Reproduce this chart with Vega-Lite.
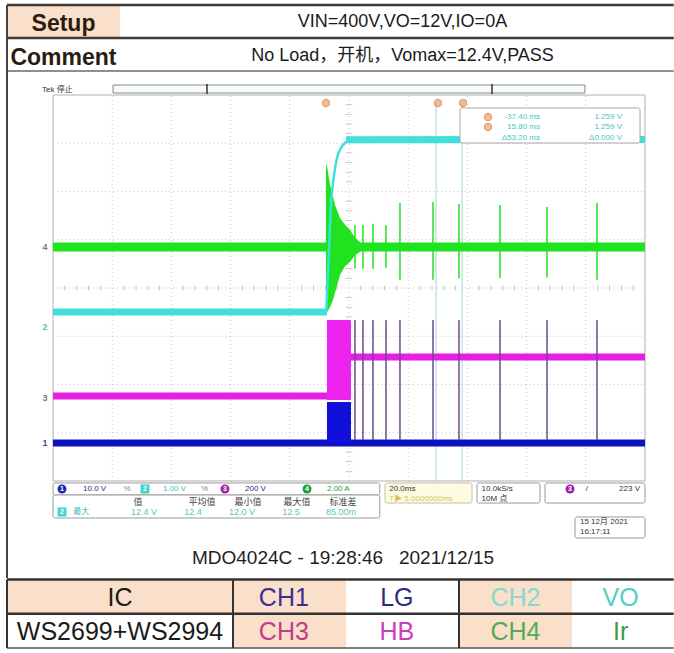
{
  "$schema": "https://vega.github.io/schema/vega-lite/v6.json",
  "padding": 0,
  "spacing": 0,
  "bounds": "flush",
  "background": "white",
  "config": {
    "view": {"stroke": null},
    "axis": {"disable": true},
    "text": {"font": "Liberation Sans, Noto Sans CJK SC"}
  },
  "datasets": {
    "gridv": [{"t":1},{"t":2},{"t":3},{"t":4},{"t":5},{"t":6},{"t":7},{"t":8},{"t":9}],
    "gridh": [{"v":-3},{"v":-2},{"v":-1},{"v":0},{"v":1},{"v":2},{"v":3}],
    "hticks": [{"t":0.2,"v":0},{"t":0.4,"v":0},{"t":0.6,"v":0},{"t":0.8,"v":0},{"t":1.2,"v":0},{"t":1.4,"v":0},{"t":1.6,"v":0},{"t":1.8,"v":0},{"t":2.2,"v":0},{"t":2.4,"v":0},{"t":2.6,"v":0},{"t":2.8,"v":0},{"t":3.2,"v":0},{"t":3.4,"v":0},{"t":3.6,"v":0},{"t":3.8,"v":0},{"t":4.2,"v":0},{"t":4.4,"v":0},{"t":4.6,"v":0},{"t":4.8,"v":0},{"t":5.2,"v":0},{"t":5.4,"v":0},{"t":5.6,"v":0},{"t":5.8,"v":0},{"t":6.2,"v":0},{"t":6.4,"v":0},{"t":6.6,"v":0},{"t":6.8,"v":0},{"t":7.2,"v":0},{"t":7.4,"v":0},{"t":7.6,"v":0},{"t":7.8,"v":0},{"t":8.2,"v":0},{"t":8.4,"v":0},{"t":8.6,"v":0},{"t":8.8,"v":0},{"t":9.2,"v":0},{"t":9.4,"v":0},{"t":9.6,"v":0},{"t":9.8,"v":0}],
    "vticks": [{"t":5,"v":-3.8},{"t":5,"v":-3.6},{"t":5,"v":-3.4},{"t":5,"v":-3.2},{"t":5,"v":-2.8},{"t":5,"v":-2.6},{"t":5,"v":-2.4},{"t":5,"v":-2.2},{"t":5,"v":-1.8},{"t":5,"v":-1.6},{"t":5,"v":-1.4},{"t":5,"v":-1.2},{"t":5,"v":-0.8},{"t":5,"v":-0.6},{"t":5,"v":-0.4},{"t":5,"v":-0.2},{"t":5,"v":0.2},{"t":5,"v":0.4},{"t":5,"v":0.6},{"t":5,"v":0.8},{"t":5,"v":1.2},{"t":5,"v":1.4},{"t":5,"v":1.6},{"t":5,"v":1.8},{"t":5,"v":2.2},{"t":5,"v":2.4},{"t":5,"v":2.6},{"t":5,"v":2.8},{"t":5,"v":3.2},{"t":5,"v":3.4},{"t":5,"v":3.6},{"t":5,"v":3.8}],
    "cursors": [{"t":6.47},{"t":6.91}],
    "green": [{"t":0,"v":0.85},{"t":10,"v":0.85}],
    "burst": [{"t":4.611,"v":2.59,"v2":-0.52},{"t":4.64,"v":2.45,"v2":-0.47},{"t":4.679,"v":2.14,"v2":-0.4},{"t":4.73,"v":1.9,"v2":-0.25},{"t":4.764,"v":1.72,"v2":-0.1},{"t":4.848,"v":1.45,"v2":0.27},{"t":4.932,"v":1.31,"v2":0.45},{"t":5.017,"v":1.2,"v2":0.54},{"t":5.101,"v":1.04,"v2":0.68},{"t":5.186,"v":0.95,"v2":0.75}],
    "gspikes": [{"t":5.101,"v":1.31,"v2":0.4},{"t":5.236,"v":1.31,"v2":0.4},{"t":5.405,"v":1.33,"v2":0.4},{"t":5.625,"v":1.3,"v2":0.42},{"t":5.861,"v":1.76,"v2":0.17},{"t":6.419,"v":1.78,"v2":0.17},{"t":6.858,"v":1.74,"v2":0.2},{"t":7.551,"v":1.72,"v2":0.2},{"t":8.345,"v":1.68,"v2":0.22},{"t":9.189,"v":1.76,"v2":0.17}],
    "mspikes": [{"t":5.101,"v":-0.663,"v2":-3.15},{"t":5.236,"v":-0.663,"v2":-3.15},{"t":5.405,"v":-0.663,"v2":-3.15},{"t":5.625,"v":-0.663,"v2":-3.15},{"t":5.861,"v":-0.663,"v2":-3.15},{"t":6.419,"v":-0.663,"v2":-3.15},{"t":6.858,"v":-0.663,"v2":-3.15},{"t":7.551,"v":-0.663,"v2":-3.15},{"t":8.345,"v":-0.663,"v2":-3.15},{"t":9.189,"v":-0.663,"v2":-3.15}],
    "cyan0": [{"t":0,"v":-0.497},{"t":4.628,"v":-0.497}],
    "cyanrise": [{"t":4.615,"v":-0.497},{"t":4.645,"v":0.3},{"t":4.662,"v":0.788},{"t":4.696,"v":1.72},{"t":4.747,"v":2.342},{"t":4.797,"v":2.694},{"t":4.865,"v":2.902},{"t":4.932,"v":3.005},{"t":5.017,"v":3.06}],
    "cyan2": [{"t":4.95,"v":3.07},{"t":10,"v":3.08}],
    "mag0": [{"t":0,"v":-2.238},{"t":4.628,"v":-2.238}],
    "mag2": [{"t":5.034,"v":-1.43},{"t":10,"v":-1.43}],
    "blue0": [{"t":0,"v":-3.212},{"t":10,"v":-3.212}],
    "magblock": [{"t":4.628,"t2":5.034,"v":-0.663,"v2":-2.321}],
    "blueblock": [{"t":4.628,"t2":5.034,"v":-2.363,"v2":-3.212}],
    "chlab": [{"t":-0.135,"v":0.85,"n":"4","ch":"4"},{"t":-0.135,"v":-0.81,"n":"2","ch":"2"},{"t":-0.135,"v":-2.28,"n":"3","ch":"3"},{"t":-0.135,"v":-3.21,"n":"1","ch":"1"}],
    "cursorbox": [{"t":6.875,"t2":9.916,"v":3.731,"v2":3.005}],
    "curtxt": [{"t":8.226,"v":3.544,"txt":"-37.40 ms"},{"t":9.611,"v":3.544,"txt":"1.259 V"},{"t":8.226,"v":3.337,"txt":"15.80 ms"},{"t":9.611,"v":3.337,"txt":"1.259 V"},{"t":8.226,"v":3.109,"txt":"Δ53.20 ms"},{"t":9.611,"v":3.109,"txt":"Δ0.000 V"}],
    "omarks": [{"t":4.611,"v":3.834},{"t":6.503,"v":3.834},{"t":6.926,"v":3.834},{"t":7.348,"v":3.544},{"t":7.348,"v":3.337}],
    "trig": [{"t":4.82,"v":4.1}],
    "tek": [{"t":-0.186,"v":4.104,"txt":"Tek 停止"}],
    "recbar": [{"t":1.014,"t2":8.986,"v":4.207,"v2":4.041}],
    "recdiv": [{"t":2.601},{"t":7.416}],
    "sboxes": [{"t":0,"t2":5.52,"v":-4.041,"v2":-4.29},{"t":0,"t2":5.52,"v":-4.29,"v2":-4.767},{"t":7.162,"t2":8.226,"v":-4.041,"v2":-4.456},{"t":8.311,"t2":10,"v":-4.041,"v2":-4.456},{"t":8.818,"t2":10,"v":-4.746,"v2":-5.181}],
    "ybox": [{"t":5.608,"t2":7.078,"v":-4.041,"v2":-4.456}],
    "badges": [{"t":0.152,"v":-4.166,"ch":"1"},{"t":1.554,"v":-4.166,"ch":"2"},{"t":2.905,"v":-4.166,"ch":"3"},{"t":4.291,"v":-4.166,"ch":"4"},{"t":0.152,"v":-4.642,"ch":"2"},{"t":8.733,"v":-4.166,"ch":"3"}],
    "stxtL": [{"t":0.507,"v":-4.166,"txt":"10.0 V","g":"navy"},{"t":1.19,"v":-4.166,"txt":"%","g":"gray"},{"t":1.858,"v":-4.166,"txt":"1.00 V","g":"cyan"},{"t":2.5,"v":-4.166,"txt":"%","g":"gray"},{"t":3.243,"v":-4.166,"txt":"200 V","g":"navy"},{"t":4.628,"v":-4.166,"txt":"2.00 A","g":"green"},{"t":0.34,"v":-4.642,"txt":"最大","g":"cyan"},{"t":5.68,"v":-4.166,"txt":"20.0ms","g":"dark"},{"t":5.68,"v":-4.37,"txt":"T▶ 5.0000000ms","g":"yellow"},{"t":7.24,"v":-4.166,"txt":"10.0kS/s","g":"dark"},{"t":7.24,"v":-4.37,"txt":"10M 点","g":"dark"},{"t":9.0,"v":-4.166,"txt":"/","g":"dark"},{"t":8.902,"v":-4.85,"txt":"15 12月 2021","g":"dark"},{"t":8.902,"v":-5.057,"txt":"16:17:11","g":"dark"}],
    "stxtR": [{"t":9.916,"v":-4.166,"txt":"223 V"}],
    "stxtC": [{"t":1.436,"v":-4.435,"txt":"值","g":"dark"},{"t":2.517,"v":-4.435,"txt":"平均值","g":"dark"},{"t":3.294,"v":-4.435,"txt":"最小值","g":"dark"},{"t":4.122,"v":-4.435,"txt":"最大值","g":"dark"},{"t":4.899,"v":-4.435,"txt":"标准差","g":"dark"},{"t":1.537,"v":-4.642,"txt":"12.4 V","g":"cyan"},{"t":2.365,"v":-4.642,"txt":"12.4","g":"cyan"},{"t":3.193,"v":-4.642,"txt":"12.0 V","g":"cyan"},{"t":4.02,"v":-4.642,"txt":"12.5","g":"cyan"},{"t":4.865,"v":-4.642,"txt":"85.00m","g":"cyan"}],
    "caption": [{"t":4.899,"v":-5.596,"txt":"MDO4024C - 19:28:46\u00a0\u00a0\u00a02021/12/15"}]
  },
  "vconcat": [
    {
      "width": 674,
      "height": 76,
      "layer": [
        {"data": {"values": [{"c": 0, "c2": 1, "r": 0, "r2": 1}]}, "mark": {"type": "rect", "fill": "#fadfca"},
         "encoding": {"x": {"field": "c", "type": "quantitative", "scale": {"domain": [-0.0619, 5.9027], "nice": false, "zero": false}, "axis": null}, "x2": {"field": "c2"},
                      "y": {"field": "r", "type": "quantitative", "scale": {"domain": [-0.1515, 2.1515], "nice": false, "zero": false, "reverse": true}, "axis": null}, "y2": {"field": "r2"}}},
        {"data": {"values": [{"r": 0}, {"r": 1}]}, "mark": {"type": "rule", "stroke": "#3a3a3a", "strokeWidth": 2.5},
         "encoding": {"x": {"datum": 0, "type": "quantitative"}, "x2": {"datum": 5.9},
                      "y": {"field": "r", "type": "quantitative", "scale": {"domain": [-0.1515, 2.1515], "nice": false, "zero": false, "reverse": true}, "axis": null}}},
        {"data": {"values": [{"r": 2}]}, "mark": {"type": "rule", "stroke": "#6a6a6a", "strokeWidth": 1.5},
         "encoding": {"x": {"datum": 0, "type": "quantitative"}, "x2": {"datum": 5.9},
                      "y": {"field": "r", "type": "quantitative", "axis": null}}},
        {"data": {"values": [{"c": 0}]}, "mark": {"type": "rule", "stroke": "#444444", "strokeWidth": 2},
         "encoding": {"x": {"field": "c", "type": "quantitative", "axis": null}, "y": {"datum": 0, "type": "quantitative"}, "y2": {"datum": 2.1515}}},
        {"data": {"values": [{"c": 0.5, "r": 0.5, "txt": "Setup"}, {"c": 0.5, "r": 1.5, "txt": "Comment"}]}, "mark": {"type": "text", "fontSize": 23, "fontWeight": "bold", "color": "#2a1c10", "align": "center", "baseline": "middle", "dy": 3},
         "encoding": {"x": {"field": "c", "type": "quantitative", "axis": null}, "y": {"field": "r", "type": "quantitative", "axis": null}, "text": {"field": "txt"}}},
        {"data": {"values": [{"c": 3.5, "r": 0.5, "txt": "VIN=400V,VO=12V,IO=0A"}, {"c": 3.5, "r": 1.5, "txt": "No Load，开机，Vomax=12.4V,PASS"}]}, "mark": {"type": "text", "fontSize": 18, "color": "#1a1a1a", "align": "center", "baseline": "middle", "dy": 1},
         "encoding": {"x": {"field": "c", "type": "quantitative", "axis": null}, "y": {"field": "r", "type": "quantitative", "axis": null}, "text": {"field": "txt"}}}
      ]
    },
    {
      "width": 674,
      "height": 502,
      "resolve": {"scale": {"color": "independent", "shape": "independent"}},
      "layer": [
        {"data": {"name": "gridv"}, "mark": {"type": "rule", "stroke": "#c4c4c4", "strokeWidth": 1, "strokeDash": [1, 3]},
         "encoding": {"x": {"field": "t", "type": "quantitative", "scale": {"domain": [-0.8953, 10.49], "nice": false, "zero": false}, "axis": null},
                      "y": {"datum": -4, "type": "quantitative", "scale": {"domain": [-6.0104, 4.3938], "nice": false, "zero": false}, "axis": null}, "y2": {"datum": 4}}},
        {"data": {"name": "gridh"}, "mark": {"type": "rule", "stroke": "#c4c4c4", "strokeWidth": 1, "strokeDash": [1, 3]},
         "encoding": {"x": {"datum": 0, "type": "quantitative"}, "x2": {"datum": 10}, "y": {"field": "v", "type": "quantitative", "axis": null}}},
        {"data": {"values": [{"k": "frame"}]}, "mark": {"type": "rect", "fillOpacity": 0, "stroke": "#b0b0b0", "strokeWidth": 1},
         "encoding": {"x": {"datum": 0, "type": "quantitative"}, "x2": {"datum": 10}, "y": {"datum": -4, "type": "quantitative"}, "y2": {"datum": 4}}},
        {"data": {"name": "hticks"}, "mark": {"type": "tick", "orient": "vertical", "size": 5, "thickness": 1, "color": "#b4b4b4"},
         "encoding": {"x": {"field": "t", "type": "quantitative", "axis": null}, "y": {"field": "v", "type": "quantitative", "axis": null}}},
        {"data": {"name": "vticks"}, "mark": {"type": "tick", "orient": "horizontal", "size": 7, "thickness": 1, "color": "#b4b4b4"},
         "encoding": {"x": {"field": "t", "type": "quantitative", "axis": null}, "y": {"field": "v", "type": "quantitative", "axis": null}}},
        {"data": {"name": "cursors"}, "mark": {"type": "rule", "stroke": "#a9d3d3", "strokeWidth": 1},
         "encoding": {"x": {"field": "t", "type": "quantitative", "axis": null}, "y": {"datum": -4, "type": "quantitative"}, "y2": {"datum": 3.85}}},
        {"data": {"name": "cyan0"}, "mark": {"type": "line", "color": "#3fe0dc", "strokeWidth": 7},
         "encoding": {"x": {"field": "t", "type": "quantitative", "axis": null}, "y": {"field": "v", "type": "quantitative", "axis": null}}},
        {"data": {"name": "green"}, "mark": {"type": "line", "color": "#1fe31f", "strokeWidth": 9},
         "encoding": {"x": {"field": "t", "type": "quantitative", "axis": null}, "y": {"field": "v", "type": "quantitative", "axis": null}}},
        {"data": {"name": "burst"}, "mark": {"type": "area", "color": "#1fe31f", "opacity": 1},
         "encoding": {"x": {"field": "t", "type": "quantitative", "axis": null}, "y": {"field": "v", "type": "quantitative", "axis": null}, "y2": {"field": "v2"}}},
        {"data": {"name": "gspikes"}, "mark": {"type": "rule", "color": "#1fe31f", "strokeWidth": 1.5},
         "encoding": {"x": {"field": "t", "type": "quantitative", "axis": null}, "y": {"field": "v", "type": "quantitative", "axis": null}, "y2": {"field": "v2"}}},
        {"data": {"name": "cyanrise"}, "mark": {"type": "line", "color": "#3fe0dc", "strokeWidth": 2.5, "interpolate": "monotone"},
         "encoding": {"x": {"field": "t", "type": "quantitative", "axis": null}, "y": {"field": "v", "type": "quantitative", "axis": null}}},
        {"data": {"name": "cyan2"}, "mark": {"type": "line", "color": "#3fe0dc", "strokeWidth": 7},
         "encoding": {"x": {"field": "t", "type": "quantitative", "axis": null}, "y": {"field": "v", "type": "quantitative", "axis": null}}},
        {"data": {"name": "mag0"}, "mark": {"type": "line", "color": "#e61fe0", "strokeWidth": 7},
         "encoding": {"x": {"field": "t", "type": "quantitative", "axis": null}, "y": {"field": "v", "type": "quantitative", "axis": null}}},
        {"data": {"name": "magblock"}, "mark": {"type": "rect", "color": "#ee22ee"},
         "encoding": {"x": {"field": "t", "type": "quantitative", "axis": null}, "x2": {"field": "t2"}, "y": {"field": "v", "type": "quantitative", "axis": null}, "y2": {"field": "v2"}}},
        {"data": {"name": "mag2"}, "mark": {"type": "line", "color": "#e61fe0", "strokeWidth": 7},
         "encoding": {"x": {"field": "t", "type": "quantitative", "axis": null}, "y": {"field": "v", "type": "quantitative", "axis": null}}},
        {"data": {"name": "blue0"}, "mark": {"type": "line", "color": "#0c12c4", "strokeWidth": 7},
         "encoding": {"x": {"field": "t", "type": "quantitative", "axis": null}, "y": {"field": "v", "type": "quantitative", "axis": null}}},
        {"data": {"name": "blueblock"}, "mark": {"type": "rect", "color": "#1010d8"},
         "encoding": {"x": {"field": "t", "type": "quantitative", "axis": null}, "x2": {"field": "t2"}, "y": {"field": "v", "type": "quantitative", "axis": null}, "y2": {"field": "v2"}}},
        {"data": {"name": "mspikes"}, "mark": {"type": "rule", "color": "#6a4a8c", "strokeWidth": 1.5},
         "encoding": {"x": {"field": "t", "type": "quantitative", "axis": null}, "y": {"field": "v", "type": "quantitative", "axis": null}, "y2": {"field": "v2"}}},
        {"data": {"name": "chlab"}, "mark": {"type": "text", "fontSize": 9, "fontWeight": "bold", "align": "center", "baseline": "middle"},
         "encoding": {"x": {"field": "t", "type": "quantitative", "axis": null}, "y": {"field": "v", "type": "quantitative", "axis": null}, "text": {"field": "n"},
                      "color": {"field": "ch", "type": "nominal", "scale": {"domain": ["1", "2", "3", "4"], "range": ["#4a4a8a", "#6ab8b8", "#8a6a8a", "#6a8a6a"]}, "legend": null}}},
        {"data": {"name": "cursorbox"}, "mark": {"type": "rect", "fill": "white", "stroke": "#a8a8a8", "strokeWidth": 1, "cornerRadius": 2},
         "encoding": {"x": {"field": "t", "type": "quantitative", "axis": null}, "x2": {"field": "t2"}, "y": {"field": "v", "type": "quantitative", "axis": null}, "y2": {"field": "v2"}}},
        {"data": {"name": "curtxt"}, "mark": {"type": "text", "fontSize": 8, "color": "#4cc4c4", "align": "right", "baseline": "middle"},
         "encoding": {"x": {"field": "t", "type": "quantitative", "axis": null}, "y": {"field": "v", "type": "quantitative", "axis": null}, "text": {"field": "txt"}}},
        {"data": {"name": "omarks"}, "mark": {"type": "point", "shape": "circle", "filled": true, "size": 55, "fill": "#f0a060", "stroke": "#d06a30", "strokeWidth": 1},
         "encoding": {"x": {"field": "t", "type": "quantitative", "axis": null}, "y": {"field": "v", "type": "quantitative", "axis": null}}},
        {"data": {"name": "trig"}, "mark": {"type": "point", "shape": "triangle-down", "filled": true, "size": 30, "color": "#f0a040"},
         "encoding": {"x": {"field": "t", "type": "quantitative", "axis": null}, "y": {"field": "v", "type": "quantitative", "axis": null}}},
        {"data": {"name": "tek"}, "mark": {"type": "text", "fontSize": 8, "color": "#333333", "align": "left", "baseline": "middle"},
         "encoding": {"x": {"field": "t", "type": "quantitative", "axis": null}, "y": {"field": "v", "type": "quantitative", "axis": null}, "text": {"field": "txt"}}},
        {"data": {"name": "recbar"}, "mark": {"type": "rect", "fill": "#f6fbfb", "stroke": "#8a8a8a", "strokeWidth": 1},
         "encoding": {"x": {"field": "t", "type": "quantitative", "axis": null}, "x2": {"field": "t2"}, "y": {"field": "v", "type": "quantitative", "axis": null}, "y2": {"field": "v2"}}},
        {"data": {"name": "recdiv"}, "mark": {"type": "rule", "stroke": "#333333", "strokeWidth": 1.5},
         "encoding": {"x": {"field": "t", "type": "quantitative", "axis": null}, "y": {"datum": 4.02, "type": "quantitative"}, "y2": {"datum": 4.23}}},
        {"data": {"name": "sboxes"}, "mark": {"type": "rect", "fill": "white", "stroke": "#9a9a9a", "strokeWidth": 1, "cornerRadius": 2},
         "encoding": {"x": {"field": "t", "type": "quantitative", "axis": null}, "x2": {"field": "t2"}, "y": {"field": "v", "type": "quantitative", "axis": null}, "y2": {"field": "v2"}}},
        {"data": {"name": "ybox"}, "mark": {"type": "rect", "fill": "#fffbe2", "stroke": "#c8c0a0", "strokeWidth": 1, "cornerRadius": 2},
         "encoding": {"x": {"field": "t", "type": "quantitative", "axis": null}, "x2": {"field": "t2"}, "y": {"field": "v", "type": "quantitative", "axis": null}, "y2": {"field": "v2"}}},
        {"data": {"name": "badges"}, "mark": {"type": "point", "filled": true, "size": 80, "opacity": 1},
         "encoding": {"x": {"field": "t", "type": "quantitative", "axis": null}, "y": {"field": "v", "type": "quantitative", "axis": null},
                      "color": {"field": "ch", "type": "nominal", "scale": {"domain": ["1", "2", "3", "4"], "range": ["#1a2bb8", "#3fd4d0", "#a020a8", "#1e9e3a"]}, "legend": null},
                      "shape": {"field": "ch", "type": "nominal", "scale": {"domain": ["1", "2", "3", "4"], "range": ["circle", "square", "circle", "circle"]}, "legend": null}}},
        {"data": {"name": "badges"}, "mark": {"type": "text", "fontSize": 7, "fontWeight": "bold", "color": "white", "align": "center", "baseline": "middle"},
         "encoding": {"x": {"field": "t", "type": "quantitative", "axis": null}, "y": {"field": "v", "type": "quantitative", "axis": null}, "text": {"field": "ch"}}},
        {"data": {"name": "stxtL"}, "mark": {"type": "text", "fontSize": 8, "align": "left", "baseline": "middle"},
         "encoding": {"x": {"field": "t", "type": "quantitative", "axis": null}, "y": {"field": "v", "type": "quantitative", "axis": null}, "text": {"field": "txt"},
                      "color": {"field": "g", "type": "nominal", "scale": {"domain": ["dark", "navy", "cyan", "green", "yellow", "gray"], "range": ["#333333", "#2a2a7a", "#40bcbc", "#2a9a3a", "#d8c060", "#888888"]}, "legend": null}}},
        {"data": {"name": "stxtR"}, "mark": {"type": "text", "fontSize": 8, "align": "right", "baseline": "middle", "color": "#333333"},
         "encoding": {"x": {"field": "t", "type": "quantitative", "axis": null}, "y": {"field": "v", "type": "quantitative", "axis": null}, "text": {"field": "txt"}}},
        {"data": {"name": "stxtC"}, "mark": {"type": "text", "fontSize": 9, "align": "center", "baseline": "middle"},
         "encoding": {"x": {"field": "t", "type": "quantitative", "axis": null}, "y": {"field": "v", "type": "quantitative", "axis": null}, "text": {"field": "txt"},
                      "color": {"field": "g", "type": "nominal", "scale": {"domain": ["dark", "cyan"], "range": ["#444444", "#5cc4c4"]}, "legend": null}}},
        {"data": {"name": "caption"}, "mark": {"type": "text", "fontSize": 19, "color": "#1e1e1e", "align": "center", "baseline": "middle"},
         "encoding": {"x": {"field": "t", "type": "quantitative", "axis": null}, "y": {"field": "v", "type": "quantitative", "axis": null}, "text": {"field": "txt"}}},
        {"data": {"values": [{"t": -0.777}]}, "mark": {"type": "rule", "stroke": "#444444", "strokeWidth": 2},
         "encoding": {"x": {"field": "t", "type": "quantitative", "axis": null}, "y": {"datum": -6.0104, "type": "quantitative"}, "y2": {"datum": 4.3938}}}
      ]
    },
    {
      "width": 674,
      "height": 75,
      "layer": [
        {"data": {"values": [{"c": 0, "c2": 2, "r": 0, "r2": 1}, {"c": 2, "c2": 3, "r": 0, "r2": 2}, {"c": 4, "c2": 5, "r": 0, "r2": 2}]}, "mark": {"type": "rect", "fill": "#fadfca"},
         "encoding": {"x": {"field": "c", "type": "quantitative", "scale": {"domain": [-0.0619, 5.9027], "nice": false, "zero": false}, "axis": null}, "x2": {"field": "c2"},
                      "y": {"field": "r", "type": "quantitative", "scale": {"domain": [-0.0438, 2.146], "nice": false, "zero": false, "reverse": true}, "axis": null}, "y2": {"field": "r2"}}},
        {"data": {"values": [{"r": 0}, {"r": 1}]}, "mark": {"type": "rule", "stroke": "#333333", "strokeWidth": 2.5},
         "encoding": {"x": {"datum": 0, "type": "quantitative"}, "x2": {"datum": 5.9}, "y": {"field": "r", "type": "quantitative", "axis": null}}},
        {"data": {"values": [{"r": 2}]}, "mark": {"type": "rule", "stroke": "#555555", "strokeWidth": 1.5},
         "encoding": {"x": {"datum": 0, "type": "quantitative"}, "x2": {"datum": 5.9}, "y": {"field": "r", "type": "quantitative", "axis": null}}},
        {"data": {"values": [{"c": 0}, {"c": 2}, {"c": 4}]}, "mark": {"type": "rule", "stroke": "#333333", "strokeWidth": 2},
         "encoding": {"x": {"field": "c", "type": "quantitative", "axis": null}, "y": {"datum": 0, "type": "quantitative"}, "y2": {"datum": 2}}},
        {"data": {"values": [{"c": 1.0, "r": 0.5, "txt": "IC", "k": "ic"}, {"c": 2.45, "r": 0.5, "txt": "CH1", "k": "ch1"}, {"c": 3.45, "r": 0.5, "txt": "LG", "k": "lg"}, {"c": 4.5, "r": 0.5, "txt": "CH2", "k": "ch2"}, {"c": 5.43, "r": 0.5, "txt": "VO", "k": "vo"}, {"c": 1.0, "r": 1.5, "txt": "WS2699+WS2994", "k": "ic"}, {"c": 2.45, "r": 1.5, "txt": "CH3", "k": "ch3"}, {"c": 3.45, "r": 1.5, "txt": "HB", "k": "hb"}, {"c": 4.5, "r": 1.5, "txt": "CH4", "k": "ch4"}, {"c": 5.43, "r": 1.5, "txt": "Ir", "k": "ir"}]},
         "mark": {"type": "text", "fontSize": 25, "align": "center", "baseline": "middle", "dy": 1},
         "encoding": {"x": {"field": "c", "type": "quantitative", "axis": null}, "y": {"field": "r", "type": "quantitative", "axis": null}, "text": {"field": "txt"},
                      "color": {"field": "k", "type": "nominal", "scale": {"domain": ["ic", "ch1", "lg", "ch2", "vo", "ch3", "hb", "ch4", "ir"], "range": ["#1a1a1a", "#3d2f8f", "#2b2b85", "#86d8d0", "#55ccc4", "#c23c86", "#cc3cc0", "#55aa55", "#3f9a3f"]}, "legend": null}}}
      ]
    }
  ]
}
